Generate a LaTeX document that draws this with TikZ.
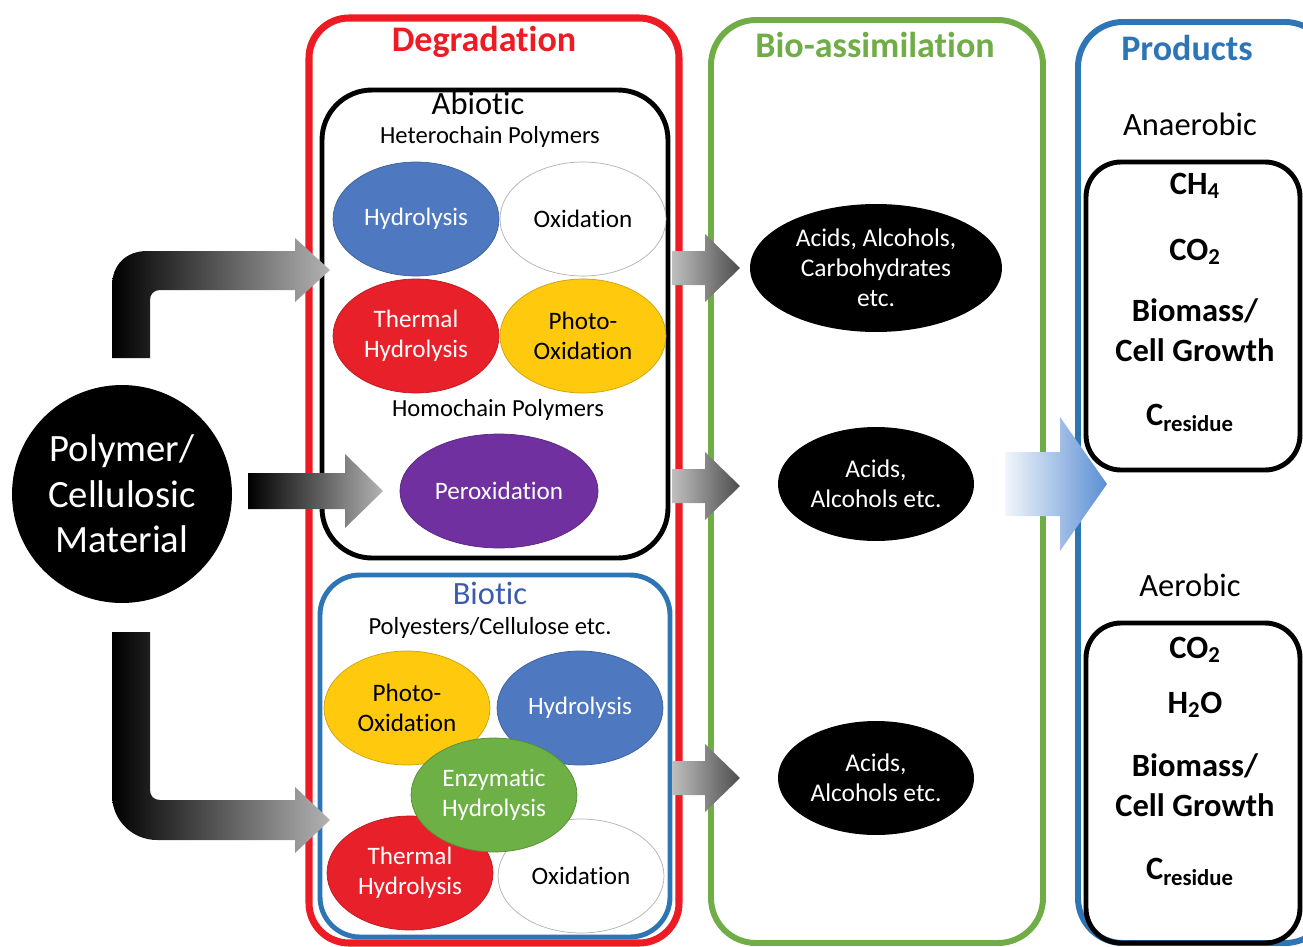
\documentclass[tikz,border=0pt]{standalone}
\usepackage{fontspec}
\setmainfont{Carlito}[Ligatures={NoCommon,NoContextual}, Contextuals=NoAlternate]
\usetikzlibrary{shapes.geometric}
\definecolor{degred}{HTML}{ED1C24}
\definecolor{assimgreen}{HTML}{70AD47}
\definecolor{prodblue}{HTML}{2E75B6}
\definecolor{biotblue}{HTML}{3B5CAD}
\definecolor{hydblue}{HTML}{4E78C0}
\definecolor{thermred}{HTML}{E8202A}
\definecolor{photoyellow}{HTML}{FFC90E}
\definecolor{peroxpurple}{HTML}{7030A0}
\definecolor{enzgreen}{HTML}{6DB046}
\definecolor{arrowblue}{HTML}{5B8FD3}
\newcommand{\myfs}[2]{\fontsize{#1}{#2}\selectfont}
% block arrow: start x, head x, tip x, y, half shaft, half head
\newcommand{\blockarrow}[6]{(#1,#4-#5) -- (#2,#4-#5) -- (#2,#4-#6) -- (#3,#4) -- (#2,#4+#6) -- (#2,#4+#5) -- (#1,#4+#5) -- cycle}

\begin{document}
\begin{tikzpicture}[x=0.02cm, y=-0.02cm,
  proc/.style={ellipse, minimum width=3.32cm, minimum height=2.28cm, inner sep=0pt, align=center, font=\myfs{14.3}{17}},
  acid/.style={ellipse, fill=black, text=white, inner sep=0pt, align=center, font=\myfs{14.5}{17}},
  title/.style={font=\myfs{20.5}{24}\bfseries},
  label/.style={font=\myfs{14}{17}},
  head/.style={font=\myfs{18.5}{22}},
  prod/.style={font=\myfs{18.5}{22.7}\bfseries, align=center}]
  \useasboundingbox (0,0) rectangle (1303,947);

  % frames
  \draw[degred, line width=4pt, rounded corners=0.8cm] (309,18) rectangle (679,943);
  \draw[black, line width=2.8pt, rounded corners=1cm] (322,90) rectangle (668,558);
  \draw[prodblue, line width=2.8pt, rounded corners=0.8cm] (320,575) rectangle (670,937);
  \draw[assimgreen, line width=3.4pt, rounded corners=0.9cm] (711,20) rectangle (1043,943);
  \draw[prodblue, line width=3.4pt, rounded corners=0.9cm] (1078,22) rectangle (1330,943);
  \draw[black, line width=2.8pt, rounded corners=0.7cm] (1086,162) rectangle (1300,470);
  \draw[black, line width=2.8pt, rounded corners=0.7cm] (1086,623) rectangle (1300,943);

  % titles
  \node[title, text=degred] (degtitle) at (484,42) {Degradation};
  \node[title, text=assimgreen] (assimtitle) at (875,45) {Bio-assimilation};
  \node[title, text=prodblue] (prodtitle) at (1187,48) {Products};

  % abiotic
  \node[head] (abiotic) at (478,103) {Abiotic};
  \node[label] (hetero) at (490,137) {Heterochain Polymers};
  \node[proc, fill=hydblue, draw=hydblue!80!black, text=white] (hyd1) at (416,219) {Hydrolysis};
  \node[proc, fill=white, draw=gray!60] (oxi1) at (583,219) {Oxidation};
  \node[proc, fill=thermred, draw=thermred!80!black, text=white] (therm1) at (416,336) {Thermal\\Hydrolysis};
  \node[proc, fill=photoyellow, draw=photoyellow!80!black] (photo1) at (583,336) {Photo-\\Oxidation};
  \node[label] (homo) at (498,410) {Homochain Polymers};
  \node[proc, fill=peroxpurple, draw=peroxpurple!80!black, text=white, minimum width=3.96cm] (perox) at (499,491) {Peroxidation};

  % biotic
  \node[head, text=biotblue] (biotic) at (490,593) {Biotic};
  \node[label] (polyest) at (490,628) {Polyesters/Cellulose etc.};
  \node[proc, fill=photoyellow, draw=photoyellow!80!black] (photo2) at (407,708) {Photo-\\Oxidation};
  \node[proc, fill=hydblue, draw=hydblue!80!black, text=white] (hyd2) at (580,708) {Hydrolysis};
  \node[proc, fill=thermred, draw=thermred!80!black, text=white] (therm2) at (410,873) {Thermal\\Hydrolysis};
  \node[proc, fill=white, draw=gray!60] (oxi2) at (581,876) {Oxidation};
  \node[proc, fill=enzgreen, draw=enzgreen!80!black, text=white] (enz) at (494,795) {Enzymatic\\Hydrolysis};

  % source and intermediates
  \node[ellipse, fill=black, text=white, minimum width=4.4cm, minimum height=4.36cm, inner sep=0pt, align=center, font=\myfs{22}{26}] (poly) at (122,494) {Polymer/\\Cellulosic\\Material};
  \node[acid, minimum width=5.04cm, minimum height=2.56cm] (acid1) at (876,268) {Acids, Alcohols,\\Carbohydrates\\etc.};
  \node[acid, minimum width=3.92cm, minimum height=2.28cm] (acid2) at (876,484) {Acids,\\Alcohols etc.};
  \node[acid, minimum width=3.92cm, minimum height=2.28cm] (acid3) at (876,778) {Acids,\\Alcohols etc.};

  % fat arrows
  \shade[left color=black, right color=gray!60] (112,358) -- (112,286) .. controls (112,265) and (126,251) .. (147,251) -- (295,251) -- (295,238) -- (330,270) -- (295,302) -- (295,290) -- (160,290) .. controls (154,290) and (150,294) .. (150,300) -- (150,358) -- cycle;
  \shade[left color=black, right color=gray!60] (112,632) -- (112,795) .. controls (112,820) and (132,840) .. (157,840) -- (295,840) -- (295,853) -- (330,820) -- (295,787) -- (295,800) -- (160,800) .. controls (154,800) and (150,796) .. (150,790) -- (150,632) -- cycle;
  \shade[left color=black, right color=gray!60] \blockarrow{248}{345}{383}{491}{18}{37};
  \foreach \y in {268,486,778}
    \shade[left color=gray!50, right color=black!70] \blockarrow{672}{705}{740}{\y}{17}{34};
  \shade[left color=arrowblue!8, right color=arrowblue] \blockarrow{1005}{1060}{1107}{484}{32}{67};

  % products
  \node[head] (anaer) at (1190,124) {Anaerobic};
  \node[prod] (ch4) at (1195,186) {CH\textsubscript{4}};
  \node[prod] (co2a) at (1195,252) {CO\textsubscript{2}};
  \node[prod] (bio1) at (1195,330) {Biomass/\\Cell Growth};
  \node[prod] (cres1) at (1190,418) {C\textsubscript{residue}};
  \node[head] (aer) at (1190,585) {Aerobic};
  \node[prod] (co2b) at (1195,650) {CO\textsubscript{2}};
  \node[prod] (h2o) at (1195,705) {H\textsubscript{2}O};
  \node[prod] (bio2) at (1195,785) {Biomass/\\Cell Growth};
  \node[prod] (cres2) at (1190,872) {C\textsubscript{residue}};
\end{tikzpicture}
\end{document}
